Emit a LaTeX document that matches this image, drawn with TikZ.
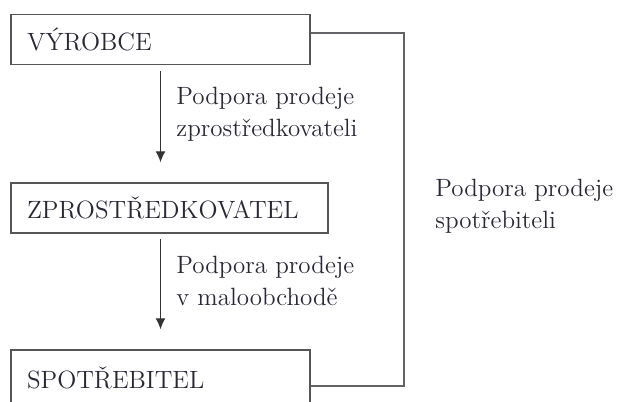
\documentclass[tikz,border=0pt]{standalone}
\usepackage{tikz}
\usetikzlibrary{arrows.meta}
\definecolor{edge}{RGB}{85,85,88}
\definecolor{wire}{RGB}{100,100,104}
\definecolor{ink}{RGB}{40,40,55}

\begin{document}
\begin{tikzpicture}[
        x=0.5pt, y=-0.5pt,
        font=\fontsize{12.5}{16}\selectfont,
        box/.style={shape=rectangle, draw=edge, line width=0.75pt, text=ink,
          align=left, inner xsep=8pt, inner ysep=0pt, minimum height=25pt},
        lbl/.style={anchor=north west, inner sep=0pt, align=left, text=ink},
        flow/.style={-{Latex[length=5.5pt,width=5pt]}, line width=0.6pt, black!80},
        link/.style={draw=wire, line width=0.8pt},
        ]
        \useasboundingbox (0,0) rectangle (624,401);
        \node(vyrobce)    [box, text width=133.5pt] at (160.5,39.5) {VÝROBCE};
        \node(zpro)       [box, text width=142.5pt] at (169.5,208)  {ZPROSTŘEDKOVATEL};
        \node(spotrebitel)[box, text width=133.5pt, minimum height=28pt] at (160.5,378) {SPOTŘEBITEL};

        \node(lblzpro) [lbl] at (176,87)  {Podpora prodeje\\zprostředkovateli};
        \node(lblmalo) [lbl] at (176,256) {Podpora prodeje\\v maloobchodě};
        \node(lblspot) [lbl] at (435,179) {Podpora prodeje\\spotřebiteli};

        \draw[flow, shorten <=3pt, shorten >=10pt] (vyrobce.south) -- (vyrobce.south |- zpro.north);
        \draw[flow, shorten <=2.5pt, shorten >=10pt] (vyrobce.south |- zpro.south) -- (spotrebitel.north);

        % bypass line on the right
        \coordinate(rail) at (404,0);
        \coordinate(outtop) at ([yshift=3.25pt]vyrobce.east);
        \coordinate(outbot) at ([yshift=-4pt]spotrebitel.east);
        \draw[link] (outtop) -| (rail |- outbot) -- (outbot);
\end{tikzpicture}
\end{document}
